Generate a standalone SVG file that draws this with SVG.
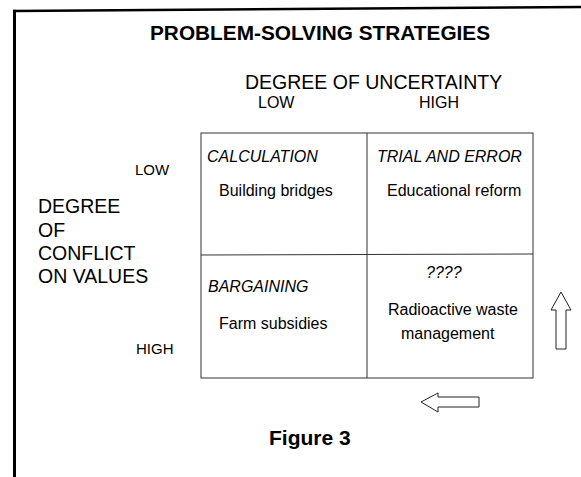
<svg xmlns="http://www.w3.org/2000/svg" width="581" height="477" viewBox="0 0 581 477">
<style>
  text { font-family: "Liberation Sans", Arial, Helvetica, sans-serif; fill: #000; }
  .title { font-size: 20.8px; font-weight: bold; }
  .axis { font-size: 19.5px; }
  .lvl { font-size: 16px; }
  .lvl2 { font-size: 15px; }
  .cat { font-size: 16px; font-style: italic; }
  .ex { font-size: 16px; }
  .fig { font-size: 21px; font-weight: bold; }
  .frame { stroke: #000; fill: none; }
  .grid { stroke: #333; stroke-width: 1; fill: none; }
  .arrow { stroke: #222; stroke-width: 1; fill: #fff; stroke-linejoin: miter; }
</style>
<rect width="581" height="477" fill="#fff"/>
<g id="frame">
  <line class="frame" x1="13" y1="11" x2="581" y2="7" stroke-width="2.5"/>
  <line class="frame" x1="14.5" y1="9.8" x2="14.5" y2="477" stroke-width="3"/>
</g>
<g id="title"><text class="title" x="150" y="40">PROBLEM-SOLVING STRATEGIES</text></g>
<g id="uncertainty-axis">
  <text class="axis" x="245" y="89">DEGREE OF UNCERTAINTY</text>
  <text class="lvl" x="258" y="108">LOW</text>
  <text class="lvl" x="419" y="108">HIGH</text>
</g>
<g id="conflict-axis">
  <text class="lvl2" x="135" y="175">LOW</text>
  <text class="axis" x="38" y="213">DEGREE</text>
  <text class="axis" x="38" y="237">OF</text>
  <text class="axis" x="38" y="260">CONFLICT</text>
  <text class="axis" x="38" y="283">ON VALUES</text>
  <text class="lvl2" x="136" y="354">HIGH</text>
</g>
<g id="grid">
  <rect class="grid" x="201" y="133" width="332" height="245"/>
  <line class="grid" x1="201" y1="255" x2="533" y2="254"/>
  <line class="grid" x1="367" y1="133" x2="367" y2="378"/>
</g>
<g id="cell-calculation">
  <text class="cat" x="207" y="162">CALCULATION</text>
  <text class="ex" x="219" y="196">Building bridges</text>
</g>
<g id="cell-trial">
  <text class="cat" x="377" y="162">TRIAL AND ERROR</text>
  <text class="ex" x="387" y="196">Educational reform</text>
</g>
<g id="cell-bargaining">
  <text class="cat" x="208" y="292">BARGAINING</text>
  <text class="ex" x="219" y="329">Farm subsidies</text>
</g>
<g id="cell-unknown">
  <text class="cat" x="426" y="278">????</text>
  <text class="ex" x="388" y="315">Radioactive waste</text>
  <text class="ex" x="401" y="339">management</text>
</g>
<g id="arrows">
  <polygon class="arrow" points="561,292 551,310 556,310 556,349 566,349 566,310 571,310"/>
  <polygon class="arrow" points="421,402 438,393 438,397 479,397 479,407 438,407 438,412"/>
</g>
<g id="caption"><text class="fig" x="269" y="445">Figure 3</text></g>
</svg>
